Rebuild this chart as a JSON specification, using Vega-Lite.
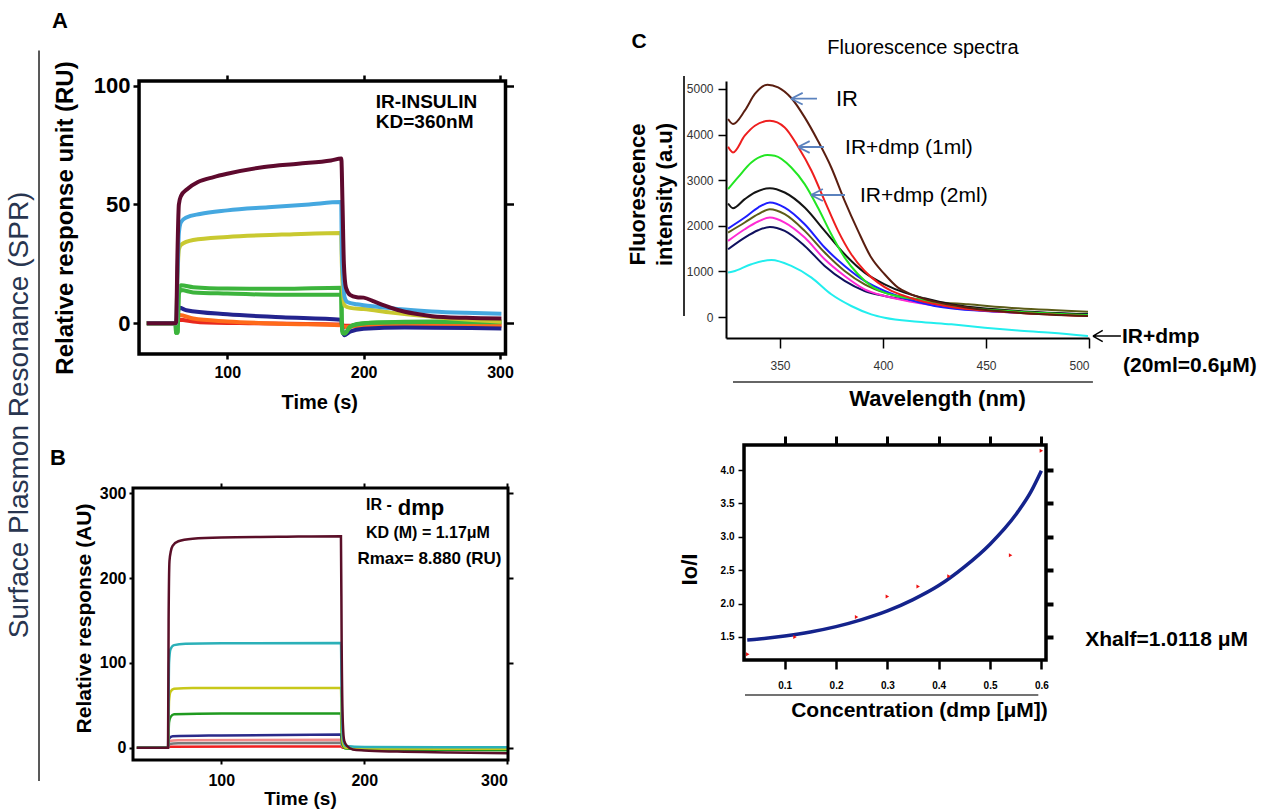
{
  "$schema": "https://vega.github.io/schema/vega-lite/v6.json",
  "background": "white",
  "padding": {"left": 5, "top": 9, "right": 5, "bottom": 5},
  "config": {
    "font": "Liberation Sans",
    "view": {"stroke": null},
    "axis": {"grid": false, "domain": false, "labelColor": "black", "titleColor": "black", "tickColor": "black", "labelFont": "Liberation Sans", "titleFont": "Liberation Sans"}
  },
  "datasets": {
    "A": [
      {"s":"2_red","t":41,"v":0},{"s":"2_red","t":62.5,"v":0},{"s":"2_red","t":64,"v":1.5},{"s":"2_red","t":80,"v":0.5},{"s":"2_red","t":120,"v":0},{"s":"2_red","t":183.5,"v":-0.5},{"s":"2_red","t":186,"v":-1},{"s":"2_red","t":230,"v":-0.9},{"s":"2_red","t":301,"v":-0.8},
      {"s":"3_orange","t":41,"v":0},{"s":"3_orange","t":62.5,"v":0},{"s":"3_orange","t":63.5,"v":2},{"s":"3_orange","t":65,"v":3.5},{"s":"3_orange","t":75,"v":2},{"s":"3_orange","t":100,"v":0.8},{"s":"3_orange","t":140,"v":-0.2},{"s":"3_orange","t":183.5,"v":-0.8},{"s":"3_orange","t":186,"v":-1.5},{"s":"3_orange","t":200,"v":-1.2},{"s":"3_orange","t":301,"v":-1},
      {"s":"4_navy","t":41,"v":0},{"s":"4_navy","t":62.5,"v":0},{"s":"4_navy","t":63.5,"v":4},{"s":"4_navy","t":65,"v":6.5},{"s":"4_navy","t":70,"v":5.5},{"s":"4_navy","t":100,"v":3.8},{"s":"4_navy","t":140,"v":2.6},{"s":"4_navy","t":183.5,"v":1.5},{"s":"4_navy","t":184.5,"v":-3},{"s":"4_navy","t":186,"v":-5},{"s":"4_navy","t":190,"v":-3.5},{"s":"4_navy","t":200,"v":-2.3},{"s":"4_navy","t":230,"v":-1.8},{"s":"4_navy","t":301,"v":-2.2},
      {"s":"5_green2","t":41,"v":0},{"s":"5_green2","t":62,"v":0},{"s":"5_green2","t":62.5,"v":-4},{"s":"5_green2","t":63.5,"v":-4},{"s":"5_green2","t":64.5,"v":12.5},{"s":"5_green2","t":66,"v":14},{"s":"5_green2","t":75,"v":13},{"s":"5_green2","t":100,"v":12.5},{"s":"5_green2","t":140,"v":12},{"s":"5_green2","t":183.5,"v":12},{"s":"5_green2","t":184,"v":0},{"s":"5_green2","t":184.5,"v":-4},{"s":"5_green2","t":186,"v":-4.3},{"s":"5_green2","t":190,"v":-1.5},{"s":"5_green2","t":195,"v":-0.3},{"s":"5_green2","t":210,"v":0.3},{"s":"5_green2","t":250,"v":0.6},{"s":"5_green2","t":301,"v":0.5},
      {"s":"6_green1","t":41,"v":0},{"s":"6_green1","t":62,"v":0},{"s":"6_green1","t":62.5,"v":-4},{"s":"6_green1","t":63.5,"v":-4},{"s":"6_green1","t":64.5,"v":14},{"s":"6_green1","t":66,"v":16},{"s":"6_green1","t":75,"v":15.2},{"s":"6_green1","t":100,"v":14.6},{"s":"6_green1","t":140,"v":14.5},{"s":"6_green1","t":183.5,"v":15},{"s":"6_green1","t":184,"v":0},{"s":"6_green1","t":184.5,"v":-4},{"s":"6_green1","t":186,"v":-4.3},{"s":"6_green1","t":190,"v":-1.5},{"s":"6_green1","t":195,"v":-0.5},{"s":"6_green1","t":210,"v":0.3},{"s":"6_green1","t":250,"v":0.8},{"s":"6_green1","t":301,"v":0.8},
      {"s":"7_yellow","t":41,"v":0},{"s":"7_yellow","t":62.5,"v":0},{"s":"7_yellow","t":63.5,"v":20},{"s":"7_yellow","t":64.5,"v":31},{"s":"7_yellow","t":66,"v":33},{"s":"7_yellow","t":75,"v":35},{"s":"7_yellow","t":100,"v":36.3},{"s":"7_yellow","t":140,"v":37.3},{"s":"7_yellow","t":183.5,"v":38},{"s":"7_yellow","t":184,"v":25},{"s":"7_yellow","t":185,"v":12},{"s":"7_yellow","t":186,"v":7.5},{"s":"7_yellow","t":190,"v":6.5},{"s":"7_yellow","t":200,"v":6},{"s":"7_yellow","t":220,"v":4.5},{"s":"7_yellow","t":250,"v":2.8},{"s":"7_yellow","t":275,"v":1.6},{"s":"7_yellow","t":301,"v":0.7},
      {"s":"8_blue","t":41,"v":0},{"s":"8_blue","t":62.5,"v":0},{"s":"8_blue","t":63.5,"v":20},{"s":"8_blue","t":64.5,"v":38},{"s":"8_blue","t":66,"v":42.5},{"s":"8_blue","t":70,"v":44.5},{"s":"8_blue","t":80,"v":46},{"s":"8_blue","t":100,"v":47.5},{"s":"8_blue","t":130,"v":48.8},{"s":"8_blue","t":160,"v":50},{"s":"8_blue","t":183.5,"v":51},{"s":"8_blue","t":184,"v":30},{"s":"8_blue","t":185,"v":18},{"s":"8_blue","t":186,"v":11},{"s":"8_blue","t":188,"v":9},{"s":"8_blue","t":195,"v":8},{"s":"8_blue","t":200,"v":7.6},{"s":"8_blue","t":210,"v":7},{"s":"8_blue","t":230,"v":5.8},{"s":"8_blue","t":250,"v":5},{"s":"8_blue","t":275,"v":4.4},{"s":"8_blue","t":301,"v":4},
      {"s":"9_maroon","t":41,"v":0},{"s":"9_maroon","t":62,"v":0},{"s":"9_maroon","t":62.5,"v":0.5},{"s":"9_maroon","t":63.5,"v":30},{"s":"9_maroon","t":64.5,"v":50},{"s":"9_maroon","t":66,"v":53.5},{"s":"9_maroon","t":71,"v":56.6},{"s":"9_maroon","t":78.5,"v":59.4},{"s":"9_maroon","t":90,"v":61.5},{"s":"9_maroon","t":100,"v":62.9},{"s":"9_maroon","t":127,"v":65.7},{"s":"9_maroon","t":152,"v":67.1},{"s":"9_maroon","t":176,"v":68.5},{"s":"9_maroon","t":183.6,"v":69.3},{"s":"9_maroon","t":184.5,"v":50},{"s":"9_maroon","t":185.5,"v":25},{"s":"9_maroon","t":187,"v":15},{"s":"9_maroon","t":190,"v":12},{"s":"9_maroon","t":195,"v":11},{"s":"9_maroon","t":200,"v":10.8},{"s":"9_maroon","t":208,"v":9.1},{"s":"9_maroon","t":215,"v":7.5},{"s":"9_maroon","t":225,"v":5.6},{"s":"9_maroon","t":237,"v":4.1},{"s":"9_maroon","t":250,"v":3.0},{"s":"9_maroon","t":275,"v":2.3},{"s":"9_maroon","t":301,"v":2.0}
    ],
    "B": [
      {"s":"1_red","t":41,"v":0},{"s":"1_red","t":62.8,"v":0},{"s":"1_red","t":63.5,"v":1},{"s":"1_red","t":183.7,"v":1.5},{"s":"1_red","t":185,"v":0},{"s":"1_red","t":300,"v":0},
      {"s":"2_gray","t":41,"v":0},{"s":"2_gray","t":62.8,"v":0},{"s":"2_gray","t":63.5,"v":4.5},{"s":"2_gray","t":70,"v":5.3},{"s":"2_gray","t":183.7,"v":5.8},{"s":"2_gray","t":185,"v":1},{"s":"2_gray","t":200,"v":0},{"s":"2_gray","t":300,"v":-0.5},
      {"s":"3_pink","t":41,"v":0},{"s":"3_pink","t":62.8,"v":0},{"s":"3_pink","t":63.5,"v":8},{"s":"3_pink","t":70,"v":8.8},{"s":"3_pink","t":183.7,"v":9.5},{"s":"3_pink","t":185,"v":1},{"s":"3_pink","t":200,"v":0},{"s":"3_pink","t":300,"v":-0.5},
      {"s":"4_navy","t":41,"v":0},{"s":"4_navy","t":62.8,"v":0},{"s":"4_navy","t":63.5,"v":11},{"s":"4_navy","t":66,"v":13.5},{"s":"4_navy","t":100,"v":14.5},{"s":"4_navy","t":183.7,"v":15.5},{"s":"4_navy","t":184.5,"v":5},{"s":"4_navy","t":186,"v":1},{"s":"4_navy","t":200,"v":-0.5},{"s":"4_navy","t":300,"v":-1},
      {"s":"5_green","t":41,"v":0},{"s":"5_green","t":62.8,"v":0},{"s":"5_green","t":63.5,"v":30},{"s":"5_green","t":64.5,"v":36},{"s":"5_green","t":67,"v":39.5},{"s":"5_green","t":100,"v":40.3},{"s":"5_green","t":183.7,"v":40.3},{"s":"5_green","t":184.2,"v":15},{"s":"5_green","t":185,"v":3},{"s":"5_green","t":187,"v":-1},{"s":"5_green","t":200,"v":-2},{"s":"5_green","t":250,"v":-2.5},{"s":"5_green","t":300,"v":-3},
      {"s":"6_yellow","t":41,"v":0},{"s":"6_yellow","t":62.8,"v":0},{"s":"6_yellow","t":63.5,"v":55},{"s":"6_yellow","t":64.5,"v":66},{"s":"6_yellow","t":67,"v":69.5},{"s":"6_yellow","t":80,"v":70.5},{"s":"6_yellow","t":183.7,"v":70.5},{"s":"6_yellow","t":184.2,"v":30},{"s":"6_yellow","t":185,"v":6},{"s":"6_yellow","t":187,"v":0},{"s":"6_yellow","t":200,"v":-0.8},{"s":"6_yellow","t":300,"v":-1.2},
      {"s":"7_teal","t":41,"v":0},{"s":"7_teal","t":62.8,"v":0},{"s":"7_teal","t":63.5,"v":100},{"s":"7_teal","t":64.5,"v":116},{"s":"7_teal","t":67,"v":121},{"s":"7_teal","t":75,"v":122.5},{"s":"7_teal","t":100,"v":123.2},{"s":"7_teal","t":183.7,"v":123.5},{"s":"7_teal","t":184.2,"v":55},{"s":"7_teal","t":185,"v":12},{"s":"7_teal","t":187,"v":2},{"s":"7_teal","t":200,"v":0.8},{"s":"7_teal","t":300,"v":0.5},
      {"s":"8_maroon","t":41,"v":0},{"s":"8_maroon","t":62.8,"v":0},{"s":"8_maroon","t":63.2,"v":150},{"s":"8_maroon","t":63.8,"v":220},{"s":"8_maroon","t":64.8,"v":232},{"s":"8_maroon","t":66,"v":238},{"s":"8_maroon","t":70,"v":243.5},{"s":"8_maroon","t":80,"v":246.5},{"s":"8_maroon","t":100,"v":248},{"s":"8_maroon","t":140,"v":248.7},{"s":"8_maroon","t":183.7,"v":249.4},{"s":"8_maroon","t":184.2,"v":120},{"s":"8_maroon","t":185,"v":30},{"s":"8_maroon","t":186,"v":8},{"s":"8_maroon","t":188,"v":2},{"s":"8_maroon","t":192,"v":-2},{"s":"8_maroon","t":200,"v":-3.2},{"s":"8_maroon","t":223,"v":-4.6},{"s":"8_maroon","t":260,"v":-5.6},{"s":"8_maroon","t":300,"v":-6.5}
    ],
    "spec": [
      {"s":"1_cyan","w":324.8,"v":974},{"s":"1_cyan","w":327.2,"v":996},{"s":"1_cyan","w":336.1,"v":1157},{"s":"1_cyan","w":345.9,"v":1252},{"s":"1_cyan","w":355.5,"v":1120},{"s":"1_cyan","w":365.3,"v":864},{"s":"1_cyan","w":374.9,"v":498},{"s":"1_cyan","w":384.6,"v":242},{"s":"1_cyan","w":394.3,"v":59},{"s":"1_cyan","w":400.8,"v":-15},{"s":"1_cyan","w":417,"v":-102},{"s":"1_cyan","w":433.2,"v":-161},{"s":"1_cyan","w":449.4,"v":-234},{"s":"1_cyan","w":465.5,"v":-293},{"s":"1_cyan","w":481.7,"v":-344},{"s":"1_cyan","w":499.5,"v":-417},
      {"s":"2_navy","w":324.8,"v":1486},{"s":"2_navy","w":332.9,"v":1742},{"s":"2_navy","w":339.4,"v":1903},{"s":"2_navy","w":345.1,"v":1976},{"s":"2_navy","w":352.3,"v":1889},{"s":"2_navy","w":362,"v":1559},{"s":"2_navy","w":371.7,"v":1120},{"s":"2_navy","w":381.4,"v":791},{"s":"2_navy","w":391.1,"v":571},{"s":"2_navy","w":400.8,"v":461},{"s":"2_navy","w":413.7,"v":351},{"s":"2_navy","w":433.2,"v":220},{"s":"2_navy","w":465.5,"v":117},{"s":"2_navy","w":499.5,"v":59},
      {"s":"3_magenta","w":324.8,"v":1669},{"s":"3_magenta","w":332.9,"v":1925},{"s":"3_magenta","w":339.4,"v":2094},{"s":"3_magenta","w":345.1,"v":2181},{"s":"3_magenta","w":352.3,"v":2072},{"s":"3_magenta","w":362,"v":1742},{"s":"3_magenta","w":371.7,"v":1266},{"s":"3_magenta","w":381.4,"v":900},{"s":"3_magenta","w":391.1,"v":608},{"s":"3_magenta","w":400.8,"v":461},{"s":"3_magenta","w":413.7,"v":337},{"s":"3_magenta","w":433.2,"v":205},{"s":"3_magenta","w":465.5,"v":95},{"s":"3_magenta","w":499.5,"v":44},
      {"s":"4_olive","w":324.8,"v":1852},{"s":"4_olive","w":332.9,"v":2072},{"s":"4_olive","w":339.4,"v":2255},{"s":"4_olive","w":345.1,"v":2364},{"s":"4_olive","w":352.3,"v":2255},{"s":"4_olive","w":362,"v":1889},{"s":"4_olive","w":371.7,"v":1413},{"s":"4_olive","w":381.4,"v":1010},{"s":"4_olive","w":391.1,"v":717},{"s":"4_olive","w":400.8,"v":534},{"s":"4_olive","w":413.7,"v":410},{"s":"4_olive","w":425.1,"v":337},{"s":"4_olive","w":441.3,"v":278},{"s":"4_olive","w":465.5,"v":190},{"s":"4_olive","w":499.5,"v":117},
      {"s":"5_blue","w":324.8,"v":1940},{"s":"5_blue","w":332.9,"v":2181},{"s":"5_blue","w":339.4,"v":2401},{"s":"5_blue","w":345.1,"v":2511},{"s":"5_blue","w":352.3,"v":2401},{"s":"5_blue","w":362,"v":2035},{"s":"5_blue","w":371.7,"v":1523},{"s":"5_blue","w":381.4,"v":1120},{"s":"5_blue","w":391.1,"v":791},{"s":"5_blue","w":400.8,"v":571},{"s":"5_blue","w":410.5,"v":410},{"s":"5_blue","w":425.1,"v":242},{"s":"5_blue","w":449.4,"v":132},{"s":"5_blue","w":499.5,"v":59},
      {"s":"6_black","w":324.8,"v":2489},{"s":"6_black","w":327.2,"v":2386},{"s":"6_black","w":332.9,"v":2584},{"s":"6_black","w":337.8,"v":2730},{"s":"6_black","w":345.1,"v":2826},{"s":"6_black","w":352.3,"v":2730},{"s":"6_black","w":362,"v":2401},{"s":"6_black","w":371.7,"v":1889},{"s":"6_black","w":381.4,"v":1376},{"s":"6_black","w":391.1,"v":974},{"s":"6_black","w":400.8,"v":717},{"s":"6_black","w":410.5,"v":534},{"s":"6_black","w":420.2,"v":410},{"s":"6_black","w":433.2,"v":278},{"s":"6_black","w":465.5,"v":132},{"s":"6_black","w":499.5,"v":59},
      {"s":"7_green","w":324.8,"v":2804},{"s":"7_green","w":329.6,"v":3060},{"s":"7_green","w":336.1,"v":3389},{"s":"7_green","w":343.9,"v":3550},{"s":"7_green","w":347.5,"v":3536},{"s":"7_green","w":355.5,"v":3279},{"s":"7_green","w":362,"v":2913},{"s":"7_green","w":368.4,"v":2401},{"s":"7_green","w":374.9,"v":1815},{"s":"7_green","w":381.4,"v":1303},{"s":"7_green","w":387.9,"v":937},{"s":"7_green","w":394.3,"v":681},{"s":"7_green","w":400.8,"v":534},{"s":"7_green","w":408.9,"v":439},{"s":"7_green","w":417,"v":388},{"s":"7_green","w":433.2,"v":242},{"s":"7_green","w":465.5,"v":117},{"s":"7_green","w":499.5,"v":44},
      {"s":"8_red","w":324.8,"v":3733},{"s":"8_red","w":327.2,"v":3609},{"s":"8_red","w":332.9,"v":3975},{"s":"8_red","w":337.8,"v":4194},{"s":"8_red","w":345.1,"v":4304},{"s":"8_red","w":352.3,"v":4158},{"s":"8_red","w":358.8,"v":3733},{"s":"8_red","w":365.3,"v":3206},{"s":"8_red","w":371.7,"v":2547},{"s":"8_red","w":378.2,"v":1889},{"s":"8_red","w":384.6,"v":1376},{"s":"8_red","w":391.1,"v":1010},{"s":"8_red","w":397.6,"v":754},{"s":"8_red","w":404.1,"v":571},{"s":"8_red","w":410.5,"v":461},{"s":"8_red","w":417,"v":366},{"s":"8_red","w":433.2,"v":220},{"s":"8_red","w":465.5,"v":95},{"s":"8_red","w":499.5,"v":22},
      {"s":"9_brown","w":324.8,"v":4341},{"s":"9_brown","w":327.2,"v":4231},{"s":"9_brown","w":332.9,"v":4524},{"s":"9_brown","w":337.8,"v":4890},{"s":"9_brown","w":343.9,"v":5095},{"s":"9_brown","w":349.1,"v":5036},{"s":"9_brown","w":355.5,"v":4802},{"s":"9_brown","w":362,"v":4377},{"s":"9_brown","w":368.4,"v":3865},{"s":"9_brown","w":374.9,"v":3279},{"s":"9_brown","w":381.4,"v":2547},{"s":"9_brown","w":387.9,"v":1889},{"s":"9_brown","w":394.3,"v":1303},{"s":"9_brown","w":400.8,"v":937},{"s":"9_brown","w":407.3,"v":644},{"s":"9_brown","w":413.7,"v":498},{"s":"9_brown","w":425.1,"v":337},{"s":"9_brown","w":441.3,"v":205},{"s":"9_brown","w":465.5,"v":95},{"s":"9_brown","w":499.5,"v":22}
    ],
    "fit": [
      {"c":0.027,"r":1.455},{"c":0.05,"r":1.47},{"c":0.08,"r":1.495},{"c":0.1,"r":1.515},{"c":0.15,"r":1.575},{"c":0.2,"r":1.655},{"c":0.25,"r":1.76},{"c":0.3,"r":1.89},{"c":0.35,"r":2.06},{"c":0.4,"r":2.27},{"c":0.45,"r":2.55},{"c":0.5,"r":2.89},{"c":0.55,"r":3.33},{"c":0.58,"r":3.68},{"c":0.6,"r":3.99}
    ],
    "pts": [
      {"c":0.028,"r":1.24},{"c":0.12,"r":1.5},{"c":0.24,"r":1.8},{"c":0.3,"r":2.105},{"c":0.36,"r":2.255},{"c":0.42,"r":2.41},{"c":0.54,"r":2.725},{"c":0.6,"r":4.29}
    ]
  },
  "columns": 2,
  "align": "each",
  "bounds": "flush",
  "spacing": {"row": 91, "column": 218},
  "resolve": {"scale": {"color": "independent", "strokeWidth": "independent"}},
  "concat": [
    {
      "width": 372.5, "height": 273,
      "resolve": {"axis": {"x": "independent", "y": "independent"}},
      "layer": [
        {
          "data": {"name": "A"},
          "mark": {"type": "line", "interpolate": "monotone"},
          "encoding": {
            "x": {"field": "t", "type": "quantitative", "scale": {"domain": [30.87, 304], "nice": false, "zero": false},
              "axis": {"orient": "bottom", "values": [100, 200, 300], "format": "d", "tickSize": 5, "tickWidth": 2.5, "labelFontSize": 16, "labelFontWeight": "bold", "labelPadding": 5, "title": "Time (s)", "titleFontSize": 20, "titleFontWeight": "bold", "titleY": 38}},
            "y": {"field": "v", "type": "quantitative", "scale": {"domain": [-12.9, 101.9], "nice": false, "zero": false},
              "axis": {"orient": "left", "offset": -6, "values": [0, 50, 100], "format": "d", "tickSize": 6, "tickWidth": 2.5, "labelFontSize": 22, "labelFontWeight": "bold", "labelPadding": 3, "title": "Relative response unit (RU)", "titleFontSize": 24, "titleFontWeight": "bold", "titlePadding": 16}},
            "color": {"field": "s", "type": "nominal", "legend": null,
              "scale": {"domain": ["2_red", "3_orange", "4_navy", "5_green2", "6_green1", "7_yellow", "8_blue", "9_maroon"], "range": ["#e8281e", "#ff6a1a", "#23238e", "#3cb43c", "#3cb43c", "#c9c930", "#45a8e0", "#5e0a2e"]}},
            "strokeWidth": {"field": "s", "type": "nominal", "legend": null,
              "scale": {"domain": ["2_red", "3_orange", "4_navy", "5_green2", "6_green1", "7_yellow", "8_blue", "9_maroon"], "range": [4, 4, 4.5, 4.5, 4.5, 4.5, 4.5, 5.5]}}
          }
        },
        {
          "data": {"name": "A"},
          "mark": {"type": "point", "opacity": 0},
          "encoding": {
            "x": {"field": "t", "type": "quantitative", "scale": {"domain": [30.87, 304], "nice": false, "zero": false},
              "axis": {"orient": "top", "values": [100, 200, 300], "labels": false, "tickSize": 6, "tickWidth": 2.5, "title": null}},
            "y": {"field": "v", "type": "quantitative", "scale": {"domain": [-12.9, 101.9], "nice": false, "zero": false},
              "axis": {"orient": "right", "values": [0, 50, 100], "labels": false, "tickSize": 8, "tickWidth": 2.5, "title": null}}
          }
        },
        {
          "data": {"values": [{"k": 1}]},
          "mark": {"type": "rect", "filled": false, "stroke": "black", "strokeWidth": 3.5, "clip": false},
          "encoding": {
            "x": {"datum": 35.3, "type": "quantitative", "scale": {"domain": [30.87, 304], "nice": false, "zero": false}, "axis": null},
            "x2": {"datum": 304},
            "y": {"datum": -12.9, "type": "quantitative", "scale": {"domain": [-12.9, 101.9], "nice": false, "zero": false}, "axis": null},
            "y2": {"datum": 101.9}
          }
        },
        {
          "data": {"values": [{"k": 1}]},
          "mark": {"type": "text", "text": "IR-INSULIN", "fontSize": 19, "fontWeight": "bold", "align": "left", "baseline": "middle", "clip": false},
          "encoding": {
            "x": {"datum": 208.9, "type": "quantitative", "scale": {"domain": [30.87, 304], "nice": false, "zero": false}, "axis": null},
            "y": {"datum": 92.9, "type": "quantitative", "scale": {"domain": [-12.9, 101.9], "nice": false, "zero": false}, "axis": null}
          }
        },
        {
          "data": {"values": [{"k": 1}]},
          "mark": {"type": "text", "text": "KD=360nM", "fontSize": 19, "fontWeight": "bold", "align": "left", "baseline": "middle", "clip": false},
          "encoding": {
            "x": {"datum": 208.9, "type": "quantitative", "scale": {"domain": [30.87, 304], "nice": false, "zero": false}, "axis": null},
            "y": {"datum": 84.8, "type": "quantitative", "scale": {"domain": [-12.9, 101.9], "nice": false, "zero": false}, "axis": null}
          }
        },
        {
          "data": {"values": [{"k": 1}]},
          "mark": {"type": "text", "text": "A", "fontSize": 22, "fontWeight": "bold", "align": "center", "baseline": "middle", "clip": false},
          "encoding": {
            "x": {"datum": -22.7, "type": "quantitative", "scale": {"domain": [30.87, 304], "nice": false, "zero": false}, "axis": null},
            "y": {"datum": 127.3, "type": "quantitative", "scale": {"domain": [-12.9, 101.9], "nice": false, "zero": false}, "axis": null}
          }
        },
        {
          "data": {"values": [{"k": 1}]},
          "mark": {"type": "text", "text": "Surface Plasmon Resonance (SPR)", "fontSize": 28, "angle": 270, "color": "#28354f", "align": "center", "baseline": "middle", "clip": false},
          "encoding": {
            "x": {"datum": -52, "type": "quantitative", "scale": {"domain": [30.87, 304], "nice": false, "zero": false}, "axis": null},
            "y": {"datum": -38.5, "type": "quantitative", "scale": {"domain": [-12.9, 101.9], "nice": false, "zero": false}, "axis": null}
          }
        },
        {
          "data": {"values": [{"k": 1}]},
          "mark": {"type": "rule", "color": "#222222", "strokeWidth": 1.5, "clip": false},
          "encoding": {
            "x": {"datum": -38.05, "type": "quantitative", "scale": {"domain": [30.87, 304], "nice": false, "zero": false}, "axis": null},
            "y": {"datum": 114.7, "type": "quantitative", "scale": {"domain": [-12.9, 101.9], "nice": false, "zero": false}, "axis": null},
            "y2": {"datum": -192.5}
          }
        }
      ]
    },
    {
      "width": 363, "height": 257,
      "resolve": {"axis": {"x": "independent", "y": "independent"}},
      "layer": [
        {
          "data": {"name": "spec"},
          "mark": {"type": "line", "interpolate": "monotone", "strokeWidth": 2},
          "encoding": {
            "x": {"field": "w", "type": "quantitative", "scale": {"domain": [323.8, 500], "nice": false, "zero": false},
              "axis": {"values": [350, 400, 450, 500], "format": "d", "domain": true, "domainColor": "black", "domainWidth": 2, "tickSize": 10, "tickWidth": 1.5, "labelFontSize": 12, "labelColor": "#333333", "labelPadding": 12, "title": "Wavelength (nm)", "titleFontSize": 22, "titleFontWeight": "bold", "titleX": 211, "titleY": 50}},
            "y": {"field": "v", "type": "quantitative", "scale": {"domain": [-460, 5175], "nice": false, "zero": false},
              "axis": {"values": [0, 1000, 2000, 3000, 4000, 5000], "format": "d", "domain": true, "domainColor": "black", "domainWidth": 2, "tickSize": 8, "tickWidth": 1.5, "labelFontSize": 12, "labelColor": "#333333", "labelPadding": 5, "title": ["Fluorescence", "intensity (a.u)"], "titleFontSize": 22, "titleFontWeight": "bold", "titleLineHeight": 27, "titlePadding": 10, "titleY": 113}},
            "color": {"field": "s", "type": "nominal", "legend": null,
              "scale": {"domain": ["1_cyan", "2_navy", "3_magenta", "4_olive", "5_blue", "6_black", "7_green", "8_red", "9_brown"], "range": ["#22eeee", "#10105e", "#ff2ad4", "#5c5c18", "#1e1eff", "#141414", "#22e622", "#ee1e1e", "#5a1e10"]}}
          }
        },
        {
          "data": {"values": [{"k": 1}]},
          "mark": {"type": "text", "text": "C", "fontSize": 21, "fontWeight": "bold", "align": "center", "baseline": "middle", "clip": false},
          "encoding": {
            "x": {"datum": 281.6, "type": "quantitative", "scale": {"domain": [323.8, 500], "nice": false, "zero": false}, "axis": null},
            "y": {"datum": 6031, "type": "quantitative", "scale": {"domain": [-460, 5175], "nice": false, "zero": false}, "axis": null}
          }
        },
        {
          "data": {"values": [{"k": 1}]},
          "mark": {"type": "text", "text": "Fluorescence spectra", "fontSize": 20, "align": "center", "baseline": "middle", "clip": false},
          "encoding": {
            "x": {"datum": 419.4, "type": "quantitative", "scale": {"domain": [323.8, 500], "nice": false, "zero": false}, "axis": null},
            "y": {"datum": 5899, "type": "quantitative", "scale": {"domain": [-460, 5175], "nice": false, "zero": false}, "axis": null}
          }
        },
        {
          "data": {"values": [{"k": 1}]},
          "mark": {"type": "text", "text": "IR", "fontSize": 22, "align": "left", "baseline": "middle", "clip": false},
          "encoding": {
            "x": {"datum": 377.2, "type": "quantitative", "scale": {"domain": [323.8, 500], "nice": false, "zero": false}, "axis": null},
            "y": {"datum": 4781, "type": "quantitative", "scale": {"domain": [-460, 5175], "nice": false, "zero": false}, "axis": null}
          }
        },
        {
          "data": {"values": [{"k": 1}]},
          "mark": {"type": "text", "text": "IR+dmp (1ml)", "fontSize": 21, "align": "left", "baseline": "middle", "clip": false},
          "encoding": {
            "x": {"datum": 381.6, "type": "quantitative", "scale": {"domain": [323.8, 500], "nice": false, "zero": false}, "axis": null},
            "y": {"datum": 3706, "type": "quantitative", "scale": {"domain": [-460, 5175], "nice": false, "zero": false}, "axis": null}
          }
        },
        {
          "data": {"values": [{"k": 1}]},
          "mark": {"type": "text", "text": "IR+dmp (2ml)", "fontSize": 21, "align": "left", "baseline": "middle", "clip": false},
          "encoding": {
            "x": {"datum": 388.8, "type": "quantitative", "scale": {"domain": [323.8, 500], "nice": false, "zero": false}, "axis": null},
            "y": {"datum": 2654, "type": "quantitative", "scale": {"domain": [-460, 5175], "nice": false, "zero": false}, "axis": null}
          }
        },
        {
          "data": {"values": [{"k": 1}]},
          "mark": {"type": "point", "shape": "M-1,0L1,0M-1,0L-0.1,-0.45M-1,0L-0.1,0.45", "filled": false, "stroke": "#5b82be", "strokeWidth": 1.8, "size": 676, "opacity": 1, "clip": false},
          "encoding": {
            "x": {"datum": 361.65, "type": "quantitative", "scale": {"domain": [323.8, 500], "nice": false, "zero": false}, "axis": null},
            "y": {"datum": 4787, "type": "quantitative", "scale": {"domain": [-460, 5175], "nice": false, "zero": false}, "axis": null}
          }
        },
        {
          "data": {"values": [{"k": 1}]},
          "mark": {"type": "point", "shape": "M-1,0L1,0M-1,0L-0.1,-0.45M-1,0L-0.1,0.45", "filled": false, "stroke": "#5b82be", "strokeWidth": 1.8, "size": 676, "opacity": 1, "clip": false},
          "encoding": {
            "x": {"datum": 365.05, "type": "quantitative", "scale": {"domain": [323.8, 500], "nice": false, "zero": false}, "axis": null},
            "y": {"datum": 3728, "type": "quantitative", "scale": {"domain": [-460, 5175], "nice": false, "zero": false}, "axis": null}
          }
        },
        {
          "data": {"values": [{"k": 1}]},
          "mark": {"type": "point", "shape": "M-1,0L1,0M-1,0L-0.3,-0.35M-1,0L-0.3,0.35", "filled": false, "stroke": "#5b82be", "strokeWidth": 1.8, "size": 1156, "opacity": 1, "clip": false},
          "encoding": {
            "x": {"datum": 373.3, "type": "quantitative", "scale": {"domain": [323.8, 500], "nice": false, "zero": false}, "axis": null},
            "y": {"datum": 2675, "type": "quantitative", "scale": {"domain": [-460, 5175], "nice": false, "zero": false}, "axis": null}
          }
        },
        {
          "data": {"values": [{"k": 1}]},
          "mark": {"type": "point", "shape": "M-1,0L1,0M-1,0L-0.3,-0.4M-1,0L-0.3,0.4", "filled": false, "stroke": "black", "strokeWidth": 1.5, "size": 784, "opacity": 1, "clip": false},
          "encoding": {
            "x": {"datum": 508.7, "type": "quantitative", "scale": {"domain": [323.8, 500], "nice": false, "zero": false}, "axis": null},
            "y": {"datum": -417, "type": "quantitative", "scale": {"domain": [-460, 5175], "nice": false, "zero": false}, "axis": null}
          }
        },
        {
          "data": {"values": [{"k": 1}]},
          "mark": {"type": "text", "text": "IR+dmp", "fontSize": 21, "fontWeight": "bold", "align": "left", "baseline": "middle", "clip": false},
          "encoding": {
            "x": {"datum": 516, "type": "quantitative", "scale": {"domain": [323.8, 500], "nice": false, "zero": false}, "axis": null},
            "y": {"datum": -439, "type": "quantitative", "scale": {"domain": [-460, 5175], "nice": false, "zero": false}, "axis": null}
          }
        },
        {
          "data": {"values": [{"k": 1}]},
          "mark": {"type": "text", "text": "(20ml=0.6μM)", "fontSize": 21, "fontWeight": "bold", "align": "left", "baseline": "middle", "clip": false},
          "encoding": {
            "x": {"datum": 516.5, "type": "quantitative", "scale": {"domain": [323.8, 500], "nice": false, "zero": false}, "axis": null},
            "y": {"datum": -1075, "type": "quantitative", "scale": {"domain": [-460, 5175], "nice": false, "zero": false}, "axis": null}
          }
        },
        {
          "data": {"values": [{"k": 1}]},
          "mark": {"type": "rule", "color": "#333333", "strokeWidth": 2, "clip": false},
          "encoding": {
            "x": {"datum": 303.4, "type": "quantitative", "scale": {"domain": [323.8, 500], "nice": false, "zero": false}, "axis": null},
            "y": {"datum": 5285, "type": "quantitative", "scale": {"domain": [-460, 5175], "nice": false, "zero": false}, "axis": null},
            "y2": {"datum": 22}
          }
        },
        {
          "data": {"values": [{"k": 1}]},
          "mark": {"type": "rule", "color": "#333333", "strokeWidth": 1.5, "clip": false},
          "encoding": {
            "x": {"datum": 327.2, "type": "quantitative", "scale": {"domain": [323.8, 500], "nice": false, "zero": false}, "axis": null},
            "x2": {"datum": 501.9},
            "y": {"datum": -1425, "type": "quantitative", "scale": {"domain": [-460, 5175], "nice": false, "zero": false}, "axis": null}
          }
        }
      ]
    },
    {
      "width": 375, "height": 315,
      "resolve": {"axis": {"x": "independent", "y": "independent"}},
      "layer": [
        {
          "data": {"name": "B"},
          "mark": {"type": "line", "interpolate": "monotone", "strokeWidth": 2.5},
          "encoding": {
            "x": {"field": "t", "type": "quantitative", "scale": {"domain": [38.3, 300.5], "nice": false, "zero": false},
              "axis": {"orient": "bottom", "values": [100, 200, 300], "format": "d", "tickSize": 4, "tickWidth": 2, "labelFontSize": 16, "labelFontWeight": "bold", "labelPadding": 8, "title": "Time (s)", "titleFontSize": 19, "titleFontWeight": "bold", "titleX": 167, "titleY": 29}},
            "y": {"field": "v", "type": "quantitative", "scale": {"domain": [-14.5, 357], "nice": false, "zero": false},
              "axis": {"orient": "left", "values": [0, 100, 200, 300], "format": "d", "tickSize": 4, "tickWidth": 2, "labelFontSize": 16, "labelFontWeight": "bold", "labelPadding": 3, "title": "Relative response (AU)", "titleFontSize": 21, "titleFontWeight": "bold", "titlePadding": 5, "titleY": 173}},
            "color": {"field": "s", "type": "nominal", "legend": null,
              "scale": {"domain": ["1_red", "2_gray", "3_pink", "4_navy", "5_green", "6_yellow", "7_teal", "8_maroon"], "range": ["#f01e1e", "#7a7a7a", "#f08a8a", "#2a2a8a", "#1f9a1f", "#c8c81a", "#2bb0b8", "#5a0f28"]}}
          }
        },
        {
          "data": {"name": "B"},
          "mark": {"type": "point", "opacity": 0},
          "encoding": {
            "x": {"field": "t", "type": "quantitative", "scale": {"domain": [38.3, 300.5], "nice": false, "zero": false},
              "axis": {"orient": "top", "offset": -43, "values": [100, 200, 300], "labels": false, "tickSize": 5, "tickWidth": 2, "title": null}},
            "y": {"field": "v", "type": "quantitative", "scale": {"domain": [-14.5, 357], "nice": false, "zero": false},
              "axis": {"orient": "right", "values": [0, 100, 200, 300], "labels": false, "tickSize": 5, "tickWidth": 2, "title": null}}
          }
        },
        {
          "data": {"values": [{"k": 1}]},
          "mark": {"type": "rect", "filled": false, "stroke": "black", "strokeWidth": 3, "clip": false},
          "encoding": {
            "x": {"datum": 38.3, "type": "quantitative", "scale": {"domain": [38.3, 300.5], "nice": false, "zero": false}, "axis": null},
            "x2": {"datum": 300.5},
            "y": {"datum": -14.5, "type": "quantitative", "scale": {"domain": [-14.5, 357], "nice": false, "zero": false}, "axis": null},
            "y2": {"datum": 306.2}
          }
        },
        {
          "data": {"values": [{"k": 1}]},
          "mark": {"type": "text", "text": "B", "fontSize": 22, "fontWeight": "bold", "align": "center", "baseline": "middle", "clip": false},
          "encoding": {
            "x": {"datum": -14.2, "type": "quantitative", "scale": {"domain": [38.3, 300.5], "nice": false, "zero": false}, "axis": null},
            "y": {"datum": 341.6, "type": "quantitative", "scale": {"domain": [-14.5, 357], "nice": false, "zero": false}, "axis": null}
          }
        },
        {
          "data": {"values": [{"k": 1}]},
          "mark": {"type": "text", "text": "IR -", "fontSize": 16, "fontWeight": "bold", "align": "left", "baseline": "middle", "clip": false},
          "encoding": {
            "x": {"datum": 201.2, "type": "quantitative", "scale": {"domain": [38.3, 300.5], "nice": false, "zero": false}, "axis": null},
            "y": {"datum": 286, "type": "quantitative", "scale": {"domain": [-14.5, 357], "nice": false, "zero": false}, "axis": null}
          }
        },
        {
          "data": {"values": [{"k": 1}]},
          "mark": {"type": "text", "text": "dmp", "fontSize": 22, "fontWeight": "bold", "align": "left", "baseline": "middle", "clip": false},
          "encoding": {
            "x": {"datum": 223.5, "type": "quantitative", "scale": {"domain": [38.3, 300.5], "nice": false, "zero": false}, "axis": null},
            "y": {"datum": 282.7, "type": "quantitative", "scale": {"domain": [-14.5, 357], "nice": false, "zero": false}, "axis": null}
          }
        },
        {
          "data": {"values": [{"k": 1}]},
          "mark": {"type": "text", "text": "KD (M) = 1.17μM", "fontSize": 16, "fontWeight": "bold", "align": "center", "baseline": "middle", "clip": false},
          "encoding": {
            "x": {"datum": 244.5, "type": "quantitative", "scale": {"domain": [38.3, 300.5], "nice": false, "zero": false}, "axis": null},
            "y": {"datum": 253.2, "type": "quantitative", "scale": {"domain": [-14.5, 357], "nice": false, "zero": false}, "axis": null}
          }
        },
        {
          "data": {"values": [{"k": 1}]},
          "mark": {"type": "text", "text": "Rmax= 8.880 (RU)", "fontSize": 17, "fontWeight": "bold", "align": "center", "baseline": "middle", "clip": false},
          "encoding": {
            "x": {"datum": 245.6, "type": "quantitative", "scale": {"domain": [38.3, 300.5], "nice": false, "zero": false}, "axis": null},
            "y": {"datum": 222.5, "type": "quantitative", "scale": {"domain": [-14.5, 357], "nice": false, "zero": false}, "axis": null}
          }
        }
      ]
    },
    {
      "width": 320, "height": 215,
      "resolve": {"axis": {"x": "independent", "y": "independent"}},
      "layer": [
        {
          "data": {"name": "fit"},
          "mark": {"type": "line", "interpolate": "monotone", "strokeWidth": 3.5, "color": "#14238c"},
          "encoding": {
            "x": {"field": "c", "type": "quantitative", "scale": {"domain": [-0.0144, 0.609], "nice": false, "zero": false},
              "axis": {"orient": "bottom", "values": [0.1, 0.2, 0.3, 0.4, 0.5, 0.6], "format": ".1f", "tickSize": 9, "tickWidth": 2.5, "labelFontSize": 10, "labelFontWeight": "bold", "labelPadding": 11, "title": "Concentration (dmp [μM])", "titleFontSize": 21, "titleFontWeight": "bold", "titleX": 193, "titleY": 39}},
            "y": {"field": "r", "type": "quantitative", "scale": {"domain": [1.155, 4.375], "nice": false, "zero": false},
              "axis": {"orient": "left", "offset": -18, "values": [1.5, 2, 2.5, 3, 3.5, 4], "format": ".1f", "tickSize": 6, "tickWidth": 1.5, "labelFontSize": 10, "labelFontWeight": "bold", "labelPadding": 4, "title": "Io/I", "titleFontSize": 22, "titleFontWeight": "bold", "titleX": -43, "titleY": 124}}
          }
        },
        {
          "data": {"name": "pts"},
          "mark": {"type": "point", "shape": "triangle-right", "filled": true, "color": "#ee1111", "size": 16, "opacity": 1},
          "encoding": {
            "x": {"field": "c", "type": "quantitative", "scale": {"domain": [-0.0144, 0.609], "nice": false, "zero": false},
              "axis": {"orient": "top", "values": [0.1, 0.2, 0.3, 0.4, 0.5, 0.6], "labels": false, "tickSize": 9, "tickWidth": 3, "title": null}},
            "y": {"field": "r", "type": "quantitative", "scale": {"domain": [1.155, 4.375], "nice": false, "zero": false},
              "axis": {"orient": "right", "values": [1.5, 2, 2.5, 3, 3.5, 4], "labels": false, "tickSize": 7, "tickWidth": 4, "title": null}}
          }
        },
        {
          "data": {"values": [{"k": 1}]},
          "mark": {"type": "rect", "filled": false, "stroke": "black", "strokeWidth": 3.5, "clip": false},
          "encoding": {
            "x": {"datum": 0.0207, "type": "quantitative", "scale": {"domain": [-0.0144, 0.609], "nice": false, "zero": false}, "axis": null},
            "x2": {"datum": 0.609},
            "y": {"datum": 1.155, "type": "quantitative", "scale": {"domain": [1.155, 4.375], "nice": false, "zero": false}, "axis": null},
            "y2": {"datum": 4.375}
          }
        },
        {
          "data": {"values": [{"k": 1}]},
          "mark": {"type": "rule", "color": "#444444", "strokeWidth": 1.5, "clip": false},
          "encoding": {
            "x": {"datum": 0.0226, "type": "quantitative", "scale": {"domain": [-0.0144, 0.609], "nice": false, "zero": false}, "axis": null},
            "x2": {"datum": 0.594},
            "y": {"datum": 0.629, "type": "quantitative", "scale": {"domain": [1.155, 4.375], "nice": false, "zero": false}, "axis": null}
          }
        },
        {
          "data": {"values": [{"k": 1}]},
          "mark": {"type": "text", "text": "Xhalf=1.0118 μM", "fontSize": 21, "fontWeight": "bold", "align": "left", "baseline": "middle", "clip": false},
          "encoding": {
            "x": {"datum": 0.6854, "type": "quantitative", "scale": {"domain": [-0.0144, 0.609], "nice": false, "zero": false}, "axis": null},
            "y": {"datum": 1.455, "type": "quantitative", "scale": {"domain": [1.155, 4.375], "nice": false, "zero": false}, "axis": null}
          }
        }
      ]
    }
  ]
}
